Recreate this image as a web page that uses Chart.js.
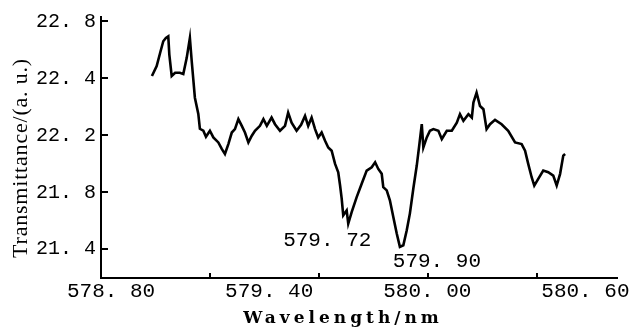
<!DOCTYPE html>
<html><head><meta charset="utf-8">
<script src="https://cdn.jsdelivr.net/npm/chart.js@4/dist/chart.umd.min.js"></script>
<style>html,body{margin:0;padding:0;background:#fff}canvas{display:block}</style>
</head><body>
<canvas id="c" width="636" height="329"></canvas>
<script>
const wavelength = [578.955,578.973,578.986,578.998,579.008,579.017,579.021,579.030,579.043,579.061,579.074,579.087,579.099,579.106,579.118,579.131,579.137,579.150,579.160,579.175,579.188,579.207,579.220,579.232,579.245,579.258,579.270,579.283,579.296,579.308,579.321,579.334,579.346,579.365,579.378,579.391,579.409,579.422,579.441,579.460,579.472,579.485,579.504,579.521,579.536,579.548,579.561,579.574,579.586,579.599,579.612,579.624,579.637,579.650,579.662,579.669,579.675,579.681,579.694,579.700,579.713,579.732,579.751,579.770,579.789,579.802,579.814,579.827,579.833,579.846,579.858,579.871,579.884,579.896,579.909,579.922,579.934,579.947,579.960,579.970,579.979,579.985,579.998,580.010,580.023,580.042,580.055,580.074,580.093,580.112,580.124,580.137,580.156,580.169,580.175,580.187,580.200,580.213,580.225,580.238,580.257,580.282,580.307,580.333,580.358,580.371,580.383,580.396,580.406,580.421,580.440,580.459,580.478,580.491,580.504,580.516,580.523];
const transmittance = [22.464,22.525,22.606,22.678,22.698,22.708,22.596,22.464,22.484,22.484,22.476,22.576,22.698,22.555,22.331,22.231,22.140,22.128,22.091,22.128,22.087,22.056,22.016,21.985,22.046,22.117,22.138,22.199,22.158,22.117,22.056,22.097,22.128,22.158,22.199,22.158,22.209,22.168,22.128,22.158,22.239,22.178,22.128,22.164,22.219,22.158,22.209,22.138,22.087,22.117,22.066,22.025,22.005,21.924,21.873,21.791,21.712,21.608,21.638,21.557,21.628,21.720,21.802,21.883,21.903,21.934,21.893,21.863,21.781,21.761,21.700,21.597,21.496,21.414,21.424,21.516,21.620,21.773,21.914,22.046,22.168,22.025,22.087,22.128,22.138,22.128,22.077,22.128,22.128,22.178,22.230,22.189,22.230,22.209,22.301,22.362,22.280,22.260,22.138,22.168,22.195,22.168,22.128,22.056,22.046,22.005,21.924,21.842,21.791,21.832,21.883,21.873,21.852,21.791,21.863,21.975,21.985];

const xTickValues = [578.8, 579.4, 580.0, 580.6];
const xTickLabels = ["578. 80", "579. 40", "580. 00", "580. 60"];
const xTickMarks = [579.175, 579.589, 580.003, 580.416];
const yTickValues = [22.8, 22.45, 22.1, 21.75, 21.4];
const yTickLabels = ["22. 8", "22. 4", "22. 2", "21. 8", "21. 4"];
const peakLabels = ["579. 72", "579. 90"];
const peakX = [579.700, 579.896];
const peakY = [21.557, 21.414];
const xTitle = "Wavelength/nm";
const yTitle = "Transmittance/(a. u.)";

const extras = {
  id: 'extras',
  afterDraw(chart) {
    const {ctx, scales: {x, y}, chartArea: a} = chart;
    ctx.save();
    ctx.strokeStyle = '#000';
    ctx.lineWidth = 2;
    yTickValues.forEach(v => {
      const py = Math.round(y.getPixelForValue(v));
      ctx.beginPath(); ctx.moveTo(a.left, py); ctx.lineTo(a.left + 7, py); ctx.stroke();
    });
    xTickMarks.forEach(v => {
      const px = Math.round(x.getPixelForValue(v));
      ctx.beginPath(); ctx.moveTo(px, a.bottom); ctx.lineTo(px, a.bottom - 5); ctx.stroke();
    });
    ctx.fillStyle = '#000';
    ctx.font = '21px "Liberation Mono"';
    ctx.textAlign = 'center';
    ctx.textBaseline = 'middle';
    const offs = [[-21, 17], [37, 15]];
    peakLabels.forEach((t, i) => {
      const px = x.getPixelForValue(peakX[i]) + offs[i][0];
      const py = y.getPixelForValue(peakY[i]) + offs[i][1];
      ctx.fillText(t, px, py);
    });
    ctx.font = 'bold 17px "DejaVu Serif"';
    ctx.letterSpacing = '4px';
    ctx.textBaseline = 'alphabetic';
    ctx.fillText(xTitle, 343, 323);
    ctx.font = '22px "Liberation Serif"';
    ctx.letterSpacing = '0.8px';
    ctx.translate(27, 158);
    ctx.rotate(-Math.PI / 2);
    ctx.fillText(yTitle, 0, 0);
    ctx.restore();
  }
};

new Chart(document.getElementById('c'), {
  type: 'line',
  data: {
    datasets: [{
      data: wavelength.map((w, i) => ({x: w, y: transmittance[i]})),
      borderColor: '#000',
      borderWidth: 2.6,
      pointRadius: 0,
      tension: 0,
      fill: false
    }]
  },
  options: {
    responsive: false,
    animation: false,
    devicePixelRatio: 1,
    layout: {padding: {left: 0, top: 16, right: 19, bottom: 0}},
    plugins: {legend: {display: false}, tooltip: {enabled: false}},
    scales: {
      x: {
        type: 'linear', min: 578.7617, max: 580.7199,
        afterBuildTicks: s => { s.ticks = xTickValues.map(v => ({value: v})); },
        afterFit: s => { s.height = 51; },
        ticks: {callback: (v, i) => xTickLabels[i], font: {family: 'Liberation Mono', size: 21}, color: '#000', padding: 1, maxRotation: 0, autoSkip: false},
        grid: {display: true, drawOnChartArea: false, drawTicks: false},
        border: {display: true, color: '#000', width: 2}
      },
      y: {
        type: 'linear', min: 21.2227, max: 22.827,
        afterBuildTicks: s => { s.ticks = yTickValues.map(v => ({value: v})); },
        afterFit: s => { s.width = 101; },
        ticks: {callback: (v, i) => yTickLabels[i], font: {family: 'Liberation Mono', size: 20}, color: '#000', padding: 5, autoSkip: false},
        grid: {display: true, drawOnChartArea: false, drawTicks: false},
        border: {display: true, color: '#000', width: 2}
      }
    }
  },
  plugins: [extras]
});
</script>
</body></html>
